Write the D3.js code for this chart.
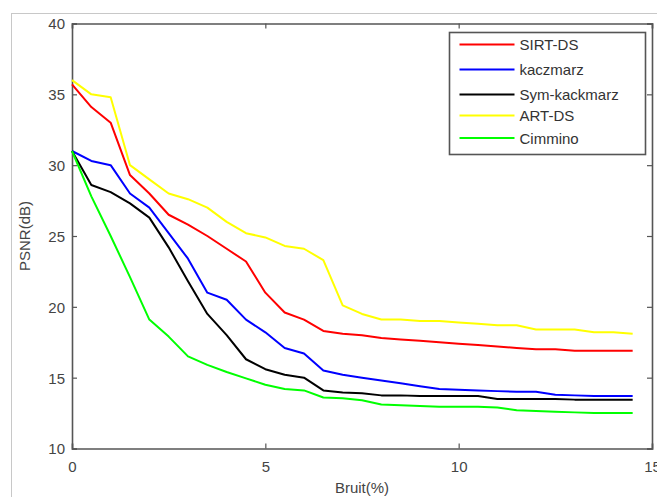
<!DOCTYPE html>
<html>
<head>
<meta charset="utf-8">
<script src="https://cdn.jsdelivr.net/npm/d3@7"></script>
<style>
  body { margin: 0; background: #fff; }
  text { font-family: "Liberation Sans", Arial, sans-serif; }
</style>
</head>
<body>
<div id="chart"></div>
<script>
// noise levels (%)
const bruit = [0, 0.5, 1, 1.5, 2, 2.5, 3, 3.5, 4, 4.5, 5, 5.5, 6, 6.5, 7, 7.5,
               8, 8.5, 9, 9.5, 10, 10.5, 11, 11.5, 12, 12.5, 13, 13.5, 14, 14.5];

// PSNR values
const sirtDS = [35.7, 34.1, 33.0, 29.3, 28.0, 26.5, 25.8, 25.0, 24.1, 23.2, 21.0, 19.6, 19.1, 18.3, 18.1, 18.0,
                17.8, 17.7, 17.6, 17.5, 17.4, 17.3, 17.2, 17.1, 17.0, 17.0, 16.9, 16.9, 16.9, 16.9];
const kaczmarz = [31.0, 30.3, 30.0, 28.0, 27.0, 25.2, 23.4, 21.0, 20.5, 19.1, 18.2, 17.1, 16.7, 15.5, 15.2, 15.0,
                  14.8, 14.6, 14.4, 14.2, 14.15, 14.1, 14.05, 14.0, 14.0, 13.8, 13.75, 13.7, 13.7, 13.7];
const symKackmarz = [31.0, 28.6, 28.1, 27.3, 26.3, 24.2, 21.8, 19.5, 18.0, 16.3, 15.6, 15.2, 15.0, 14.1, 13.95, 13.9,
                     13.75, 13.75, 13.7, 13.7, 13.7, 13.7, 13.5, 13.5, 13.5, 13.5, 13.45, 13.45, 13.45, 13.45];
const artDS = [36.0, 35.0, 34.8, 30.0, 29.0, 28.0, 27.6, 27.0, 26.0, 25.2, 24.9, 24.3, 24.1, 23.3, 20.1, 19.5,
               19.1, 19.1, 19.0, 19.0, 18.9, 18.8, 18.7, 18.7, 18.4, 18.4, 18.4, 18.2, 18.2, 18.1];
const cimmino = [31.0, 27.8, 25.0, 22.1, 19.1, 17.9, 16.5, 15.9, 15.4, 14.95, 14.5, 14.2, 14.1, 13.6, 13.55, 13.4,
                 13.1, 13.05, 13.0, 12.95, 12.95, 12.95, 12.9, 12.7, 12.65, 12.6, 12.55, 12.5, 12.5, 12.5];

const seriesNames = ["SIRT-DS", "kaczmarz", "Sym-kackmarz", "ART-DS", "Cimmino"];
const seriesValues = [sirtDS, kaczmarz, symKackmarz, artDS, cimmino];
const seriesColors = ["#ff0000", "#0000ff", "#000000", "#ffff00", "#00ff00"];

const xTicks = [0, 5, 10, 15];
const yTicks = [10, 15, 20, 25, 30, 35, 40];

const width = 657, height = 497;
const margin = {top: 23.5, right: 5, bottom: 48.5, left: 72};

const svg = d3.select("#chart").append("svg")
    .attr("width", width)
    .attr("height", height);

// figure frame
svg.append("rect")
    .attr("x", 11.5).attr("y", 13.5)
    .attr("width", 660).attr("height", 520)
    .attr("fill", "none")
    .attr("stroke", "#c8c8c8")
    .attr("stroke-width", 1);

const x = d3.scaleLinear().domain([0, 15]).range([margin.left, width - margin.right]);
const y = d3.scaleLinear().domain([10, 40]).range([height - margin.bottom, margin.top]);

const axisColor = "#555";

// axes (ticks inward, matlab style)
const gx = svg.append("g")
    .attr("transform", `translate(0,${y(10)})`)
    .call(d3.axisBottom(x).tickValues(xTicks).tickSize(-5).tickPadding(10).tickFormat(d3.format("d")));
const gxTop = svg.append("g")
    .attr("transform", `translate(0,${y(40)})`)
    .call(d3.axisTop(x).tickValues(xTicks).tickSize(-5).tickFormat(""));
const gy = svg.append("g")
    .attr("transform", `translate(${x(0)},0)`)
    .call(d3.axisLeft(y).tickValues(yTicks).tickSize(-5).tickPadding(7).tickFormat(d3.format("d")));
const gyRight = svg.append("g")
    .attr("transform", `translate(${x(15)},0)`)
    .call(d3.axisRight(y).tickValues(yTicks).tickSize(-5).tickFormat(""));

[gx, gxTop, gy, gyRight].forEach(g => {
  g.select(".domain").attr("stroke", axisColor).attr("stroke-width", 1.6);
  g.selectAll(".tick line").attr("stroke", axisColor).attr("stroke-width", 1.2);
  g.selectAll("text").attr("fill", "#444").style("font-size", "15px")
    .style("font-family", "'Liberation Sans', Arial, sans-serif");
});
gx.selectAll("text").attr("dy", "0.9em");
gy.selectAll("text").attr("dy", "0.36em");

// lines
const line = d3.line()
    .x((d, i) => x(bruit[i]))
    .y(d => y(d));

seriesValues.forEach((vals, k) => {
  svg.append("path")
      .datum(vals)
      .attr("fill", "none")
      .attr("stroke", seriesColors[k])
      .attr("stroke-width", 2)
      .attr("stroke-linejoin", "round")
      .attr("d", line);
});

// axis labels
svg.append("text")
    .attr("x", (x(0) + x(15)) / 2)
    .attr("y", 493)
    .attr("text-anchor", "middle")
    .attr("fill", "#444")
    .style("font-size", "15px")
    .text("Bruit(%)");

svg.append("text")
    .attr("transform", `translate(30,${(y(10) + y(40)) / 2}) rotate(-90)`)
    .attr("text-anchor", "middle")
    .attr("fill", "#444")
    .style("font-size", "15px")
    .text("PSNR(dB)");

// legend
const legend = svg.append("g").attr("transform", "translate(449.5,32.5)");
legend.append("rect")
    .attr("width", 196).attr("height", 122)
    .attr("fill", "#fff")
    .attr("stroke", axisColor)
    .attr("stroke-width", 1.6);

const rowY = [12, 37, 62, 83, 105.5];
seriesNames.forEach((name, i) => {
  legend.append("line")
      .attr("x1", 10).attr("x2", 65)
      .attr("y1", rowY[i]).attr("y2", rowY[i])
      .attr("stroke", seriesColors[i])
      .attr("stroke-width", 2);
  legend.append("text")
      .attr("x", 70)
      .attr("y", rowY[i] + 5.5)
      .attr("fill", "#333")
      .style("font-size", "15px")
      .text(name);
});
</script>
</body>
</html>
